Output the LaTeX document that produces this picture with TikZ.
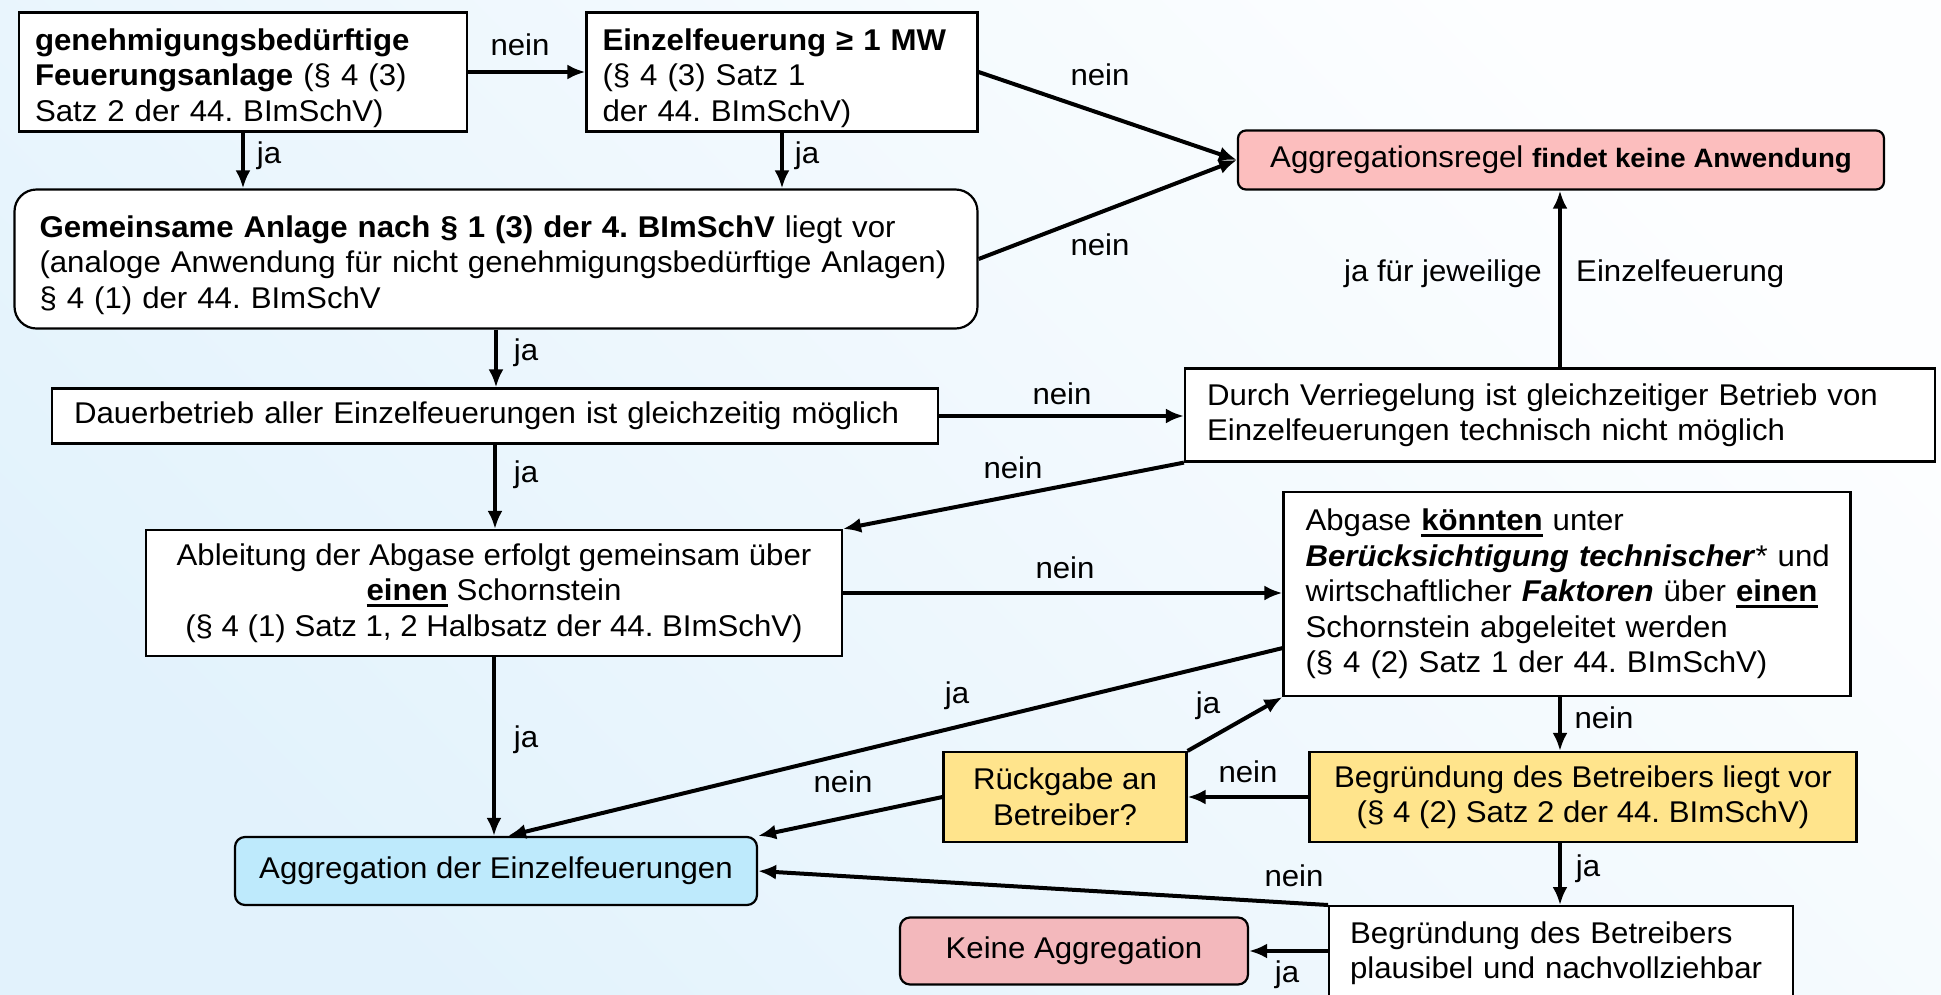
\documentclass[tikz,border=0pt]{standalone}
\usepackage{fontspec}
\setmainfont{Liberation Sans}[FakeStretch=1.04]
\usetikzlibrary{arrows.meta}
\definecolor{bgL}{RGB}{226,242,252}
\definecolor{bgR}{RGB}{253,254,255}
\definecolor{rosa}{RGB}{252,190,190}
\definecolor{altrosa}{RGB}{243,184,188}
\definecolor{hellblau}{RGB}{190,234,252}
\definecolor{gelb}{RGB}{255,228,140}
\newcommand\grundschrift{\fontsize{30pt}{35.5pt}\selectfont\frenchspacing}
\newsavebox\strbox
\newcommand\unterstr[1]{\sbox\strbox{#1}\rlap{\rule[-6pt]{\wd\strbox}{3pt}}\usebox\strbox}
\newcommand\oben{\rule{0pt}{34pt}}
\tikzset{
kasten/.style={draw,line width=2.2pt,fill=white,inner ysep=0pt,font=\grundschrift},
links/.style={kasten,align=left},
mitte/.style={kasten,align=center,inner xsep=0pt},
pfeil/.style={line width=4pt,-{Latex[length=18pt,width=15pt]}},
marke/.style={font=\grundschrift,inner sep=0pt}
}
\begin{document}
\begin{tikzpicture}[x=1pt,y=-1pt]
\shade[top color=bgR,bottom color=bgL,shading angle=-45] (0,0) rectangle (1941,994);
\useasboundingbox (0,0) rectangle (1941,994);
\node[links,text width=416pt,inner xsep=16pt,minimum height=119pt] (A) at (243,72)
{\oben\textbf{genehmigungsbedürftige}\\\textbf{Feuerungsanlage} (§ 4 (3)\\Satz 2 der 44. BImSchV)};
\node[links,text width=359pt,inner xsep=16pt,minimum height=119pt] (B) at (782,72)
{\oben\textbf{Einzelfeuerung ≥ 1 MW}\\(§ 4 (3) Satz 1\\der 44. BImSchV)};
\node[mitte,fill=rosa,rounded corners=8pt,minimum width=646pt,minimum height=59pt] (C) at (1561,160)
{Aggregationsregel {\bfseries\fontsize{26.6pt}{30pt}\selectfont findet keine Anwendung}};
\node[links,text width=913pt,inner xsep=25pt,minimum height=139pt,rounded corners=22pt] (D) at (496,259)
{\oben\textbf{Gemeinsame Anlage nach § 1 (3) der 4. BImSchV} liegt vor\\\mbox{(analoge Anwendung für nicht genehmigungsbedürftige Anlagen)}\\§ 4 (1) der 44. BImSchV};
\node[links,text width=842pt,inner xsep=22pt,minimum height=55pt] (E) at (495,416)
{Dauerbetrieb aller Einzelfeuerungen ist gleichzeitig möglich};
\node[links,text width=706pt,inner xsep=22pt,minimum height=93pt] (F) at (1560,415)
{Durch Verriegelung ist gleichzeitiger Betrieb von\\Einzelfeuerungen technisch nicht möglich};
\node[mitte,minimum width=696pt,minimum height=126pt] (G) at (494,593)
{Ableitung der Abgase erfolgt gemeinsam über\\\unterstr{\textbf{einen}} Schornstein\\(§ 4 (1) Satz 1, 2 Halbsatz der 44. BImSchV)};
\node[links,text width=523pt,inner xsep=22pt,minimum height=204pt] (H) at (1567,594)
{Abgase \unterstr{\textbf{könnten}} unter\\\mbox{\textbf{\textit{Berücksichtigung technischer}}* und}\\\mbox{wirtschaftlicher \textbf{\textit{Faktoren}} über \unterstr{\textbf{einen}}}\\Schornstein abgeleitet werden\\(§ 4 (2) Satz 1 der 44. BImSchV)};
\node[mitte,fill=gelb,minimum width=243pt,minimum height=90pt] (I) at (1065,797)
{Rückgabe an\\Betreiber?};
\node[mitte,fill=gelb,minimum width=547pt,minimum height=90pt] (J) at (1583,797)
{Begründung des Betreibers liegt vor\\(§ 4 (2) Satz 2 der 44. BImSchV)};
\node[mitte,fill=hellblau,rounded corners=10pt,minimum width=522pt,minimum height=68pt] (K) at (496,871)
{Aggregation der Einzelfeuerungen};
\node[mitte,fill=altrosa,rounded corners=10pt,minimum width=348pt,minimum height=67pt] (L) at (1074,951)
{Keine Aggregation};
\node[links,text width=422pt,inner xsep=21pt,minimum height=94pt,anchor=north west] (M) at (1328,905)
{Begründung des Betreibers\\plausibel und nachvollziehbar};
\draw[pfeil] (A.east) -- (B.west);
\draw[pfeil] (A.south) -- (A.south |- D.north);
\draw[pfeil] (B.south) -- (B.south |- D.north);
\draw[pfeil] (B.east) -- (C.west);
\draw[pfeil] (D.east) -- (C.west);
\draw[pfeil] (D.south) -- (D.south |- E.north);
\draw[pfeil] (E.east) -- (E.east -| F.west);
\draw[pfeil] (F.north) -- (F.north |- C.south);
\draw[pfeil] (F.south west) -- (G.north east);
\draw[pfeil] (E.south) -- (E.south |- G.north);
\draw[pfeil] (G.east) -- (G.east -| H.west);
\draw[pfeil] (G.south) -- (G.south |- K.north);
\draw[pfeil] ([yshift=49pt]H.south west) -- ([xshift=12pt]K.north);
\draw[pfeil] (F.north |- H.south) -- (F.north |- J.north);
\draw[pfeil] (J.west) -- (I.east);
\draw[pfeil] (I.north east) -- (H.south west);
\draw[pfeil] (I.west) -- (K.north east);
\draw[pfeil] (F.north |- J.south) -- (F.north |- M.north);
\draw[pfeil] (M.north west) -- (K.east);
\draw[pfeil] (L.east -| M.west) -- (L.east);
\node[marke] (n1) at (520,45) {nein};
\node[marke] (j1) at (269,156) {ja};
\node[marke] (j2) at (807,156) {ja};
\node[marke] (n2) at (1100,75) {nein};
\node[marke] (n3) at (1100,245) {nein};
\node[marke] (j3) at (526,353) {ja};
\node[marke] (n4) at (1062,394) {nein};
\node[marke,anchor=east] (j4) at (1542,274) {ja für jeweilige};
\node[marke,anchor=west] (e4) at (1576,274) {Einzelfeuerung};
\node[marke] (n5) at (1013,468) {nein};
\node[marke] (j5) at (526,475) {ja};
\node[marke] (n6) at (1065,568) {nein};
\node[marke] (j6) at (526,740) {ja};
\node[marke] (j7) at (957,696) {ja};
\node[marke] (n7) at (1604,718) {nein};
\node[marke] (j8) at (1208,706) {ja};
\node[marke] (n8) at (1248,772) {nein};
\node[marke] (n9) at (843,782) {nein};
\node[marke] (j9) at (1588,869) {ja};
\node[marke] (n10) at (1294,876) {nein};
\node[marke] (j10) at (1287,975) {ja};
\end{tikzpicture}
\end{document}
